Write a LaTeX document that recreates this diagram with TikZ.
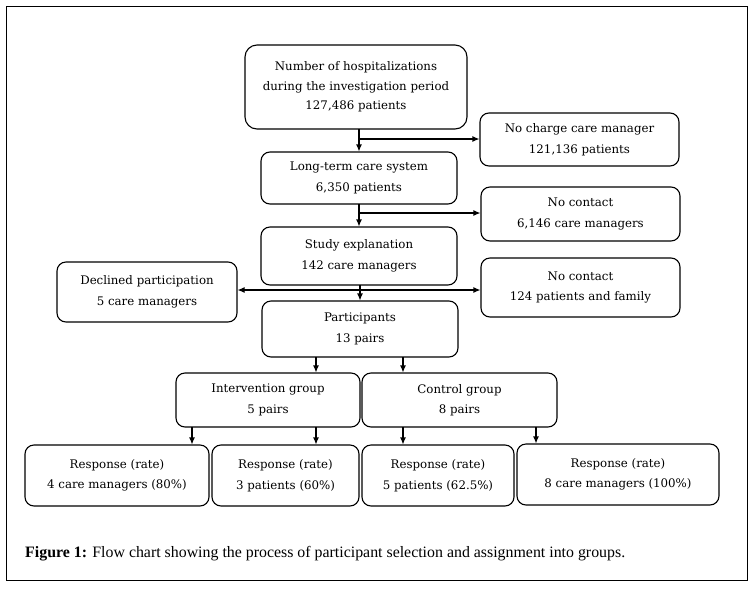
\documentclass[tikz,border=0pt]{standalone}
\usepackage{fontspec}
\setmainfont{DejaVu Serif}
\newfontfamily\capfont{Liberation Serif}
\usetikzlibrary{arrows.meta,calc}
\tikzset{
  box/.style={draw, line width=1.1pt, rounded corners=9pt, align=center, inner sep=2pt,
    font=\fontsize{11.8}{20.5}\selectfont},
  arr/.style={line width=1.1pt, -{Latex[length=7pt,width=6pt]}},
  ln/.style={line width=1.1pt}
}
\begin{document}
\begin{tikzpicture}[x=1pt,y=-1pt]
\useasboundingbox (0,0) rectangle (753,590);
\draw[line width=0.9pt] (6,6) rectangle (747,580);
% boxes
\node[box, minimum width=222, minimum height=84, rounded corners=12pt, font=\fontsize{11.8}{19.5}\selectfont] (top) at (356,87) {Number of hospitalizations\\during the investigation period\\127,486 patients};
\node[box, minimum width=199, minimum height=53] (nocharge) at (579.5,139.5) {No charge care manager\\121,136 patients};
\node[box, minimum width=196, minimum height=52] (lt) at (359,178) {Long-term care system\\6,350 patients};
\node[box, minimum width=199, minimum height=54] (nc1) at (580.5,214) {No contact\\6,146 care managers};
\node[box, minimum width=196, minimum height=58] (study) at (359,256) {Study explanation\\142 care managers};
\node[box, minimum width=180, minimum height=60] (declined) at (147,292) {Declined participation\\5 care managers};
\node[box, minimum width=199, minimum height=59] (nc2) at (580.5,287.5) {No contact\\124 patients and family};
\node[box, minimum width=196, minimum height=56] (part) at (360,329) {Participants\\13 pairs};
\node[box, minimum width=184, minimum height=54] (int) at (268,400) {Intervention group\\5 pairs};
\node[box, minimum width=195, minimum height=54] (ctl) at (459.5,400) {Control group\\8 pairs};
\node[box, minimum width=184, minimum height=61] (r1) at (117,475.5) {Response (rate)\\4 care managers (80\%)};
\node[box, minimum width=147, minimum height=61] (r2) at (285.5,475.5) {Response (rate)\\3 patients (60\%)};
\node[box, minimum width=152, minimum height=61] (r3) at (438,475.5) {Response (rate)\\5 patients (62.5\%)};
\node[box, minimum width=202, minimum height=61] (r4) at (618,474.5) {Response (rate)\\8 care managers (100\%)};
% connectors
\coordinate (a1) at (359,129);
\coordinate (b1) at (359,139);
\draw[arr] (a1) -- (a1 |- lt.north);
\draw[arr] (b1) -- (b1 -| nocharge.west);
\coordinate (a2) at (359,204);
\coordinate (b2) at (359,213);
\draw[arr] (a2) -- (a2 |- study.north);
\draw[arr] (b2) -- (b2 -| nc1.west);
\coordinate (a3) at (360,285);
\coordinate (b3) at (360,290);
\draw[arr] (a3) -- (a3 |- part.north);
\draw[arr] (b3) -- (b3 -| declined.east);
\draw[arr] (b3) -- (b3 -| nc2.west);
\coordinate (p1) at (316,357);
\coordinate (p2) at (403,357);
\draw[arr] (p1) -- (p1 |- int.north);
\draw[arr] (p2) -- (p2 |- ctl.north);
\coordinate (i1) at (192,427);
\coordinate (i2) at (316,427);
\coordinate (c1) at (403,427);
\coordinate (c2) at (536,427);
\draw[arr] (i1) -- (i1 |- r1.north);
\draw[arr] (i2) -- (i2 |- r2.north);
\draw[arr] (c1) -- (c1 |- r3.north);
\draw[arr] (c2) -- (c2 |- r4.north);
% caption
\node[anchor=base west, inner sep=0pt] (cap) at (25,557) {\resizebox{600pt}{!}{\capfont\fontsize{13}{15}\selectfont\textbf{Figure 1:} Flow chart showing the process of participant selection and assignment into groups.}};
\end{tikzpicture}
\end{document}
